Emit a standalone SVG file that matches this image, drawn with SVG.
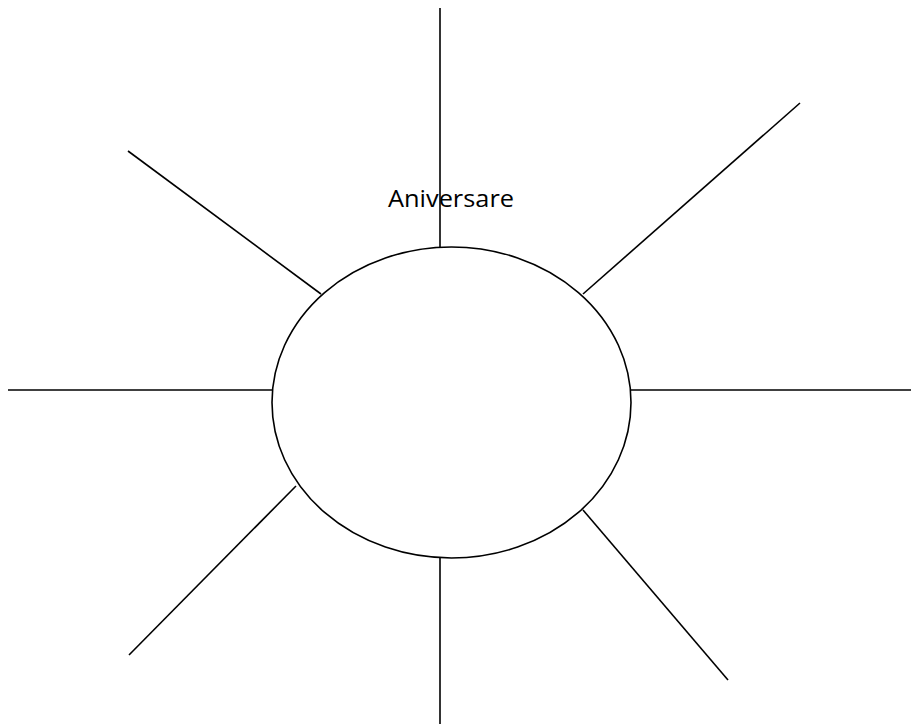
<svg xmlns="http://www.w3.org/2000/svg" width="911" height="728" viewBox="0 0 911 728">
<style>
.ln{stroke:#000;stroke-width:1.6;fill:none}
.lbl{font-family:"Open Sans","Liberation Sans",sans-serif;font-size:23px;fill:#000}
</style>
<rect width="911" height="728" fill="#fff"/>
<g id="connectors">
<line class="ln" x1="440" y1="8" x2="440" y2="247"/>
<line class="ln" x1="800" y1="103" x2="583" y2="294"/>
<line class="ln" x1="631" y1="390" x2="911" y2="390"/>
<line class="ln" x1="583" y1="510" x2="728" y2="680"/>
<line class="ln" x1="440" y1="557" x2="440" y2="724"/>
<line class="ln" x1="129" y1="655" x2="296" y2="486"/>
<line class="ln" x1="8" y1="390" x2="272" y2="390"/>
<line class="ln" x1="128" y1="151" x2="321" y2="294"/>
</g>
<g id="center">
<ellipse class="ln" cx="451.5" cy="402.5" rx="179.5" ry="155.5"/>
</g>
<g id="label">
<text class="lbl" x="388" y="207" textLength="126" lengthAdjust="spacingAndGlyphs">Aniversare</text>
</g>
</svg>
